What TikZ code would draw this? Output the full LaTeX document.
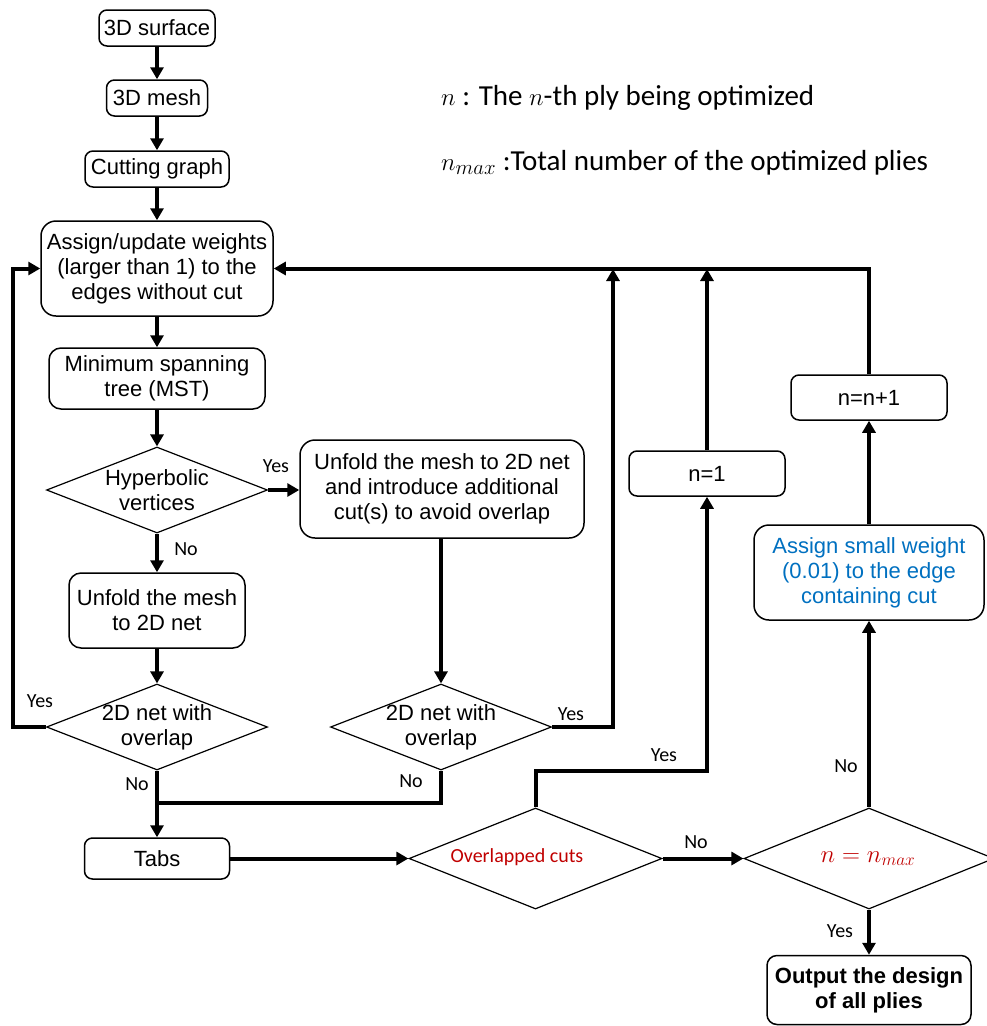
\documentclass[tikz,border=0pt]{standalone}
\usepackage{fontspec}
\setmainfont{Liberation Sans}
\newfontfamily\calib{Carlito}
\usetikzlibrary{arrows.meta,shapes.geometric}
\definecolor{myblue}{RGB}{0,112,192}
\definecolor{myred}{RGB}{192,0,0}
\begin{document}
\begin{tikzpicture}[x=1pt,y=-1pt,
  box/.style={draw, line width=1.5pt, rounded corners=8pt, align=center, font=\fontsize{22}{25}\selectfont, inner sep=0pt},
  dia/.style={draw, diamond, line width=1.2pt, inner sep=0pt},
  dtext/.style={align=center, font=\fontsize{22}{25}\selectfont},
  conn/.style={line width=4pt},
  arr/.style={conn, -{Triangle[length=12pt,width=13pt]}},
  lab/.style={font=\calib\fontsize{20}{22}\selectfont},
  leg/.style={anchor=west, inner sep=0pt, font=\calib\fontsize{29}{32}\selectfont}
]
\useasboundingbox (0,0) rectangle (986,1026);

% boxes
\node[box, minimum width=116pt, minimum height=36pt] (surf) at (157,28) {3D surface};
\node[box, minimum width=101pt, minimum height=36pt] (mesh) at (157,98) {3D mesh};
\node[box, minimum width=144pt, minimum height=36pt] (cut) at (157,169) {Cutting graph};
\node[box, rounded corners=15pt, minimum width=232pt, minimum height=95pt] (assign) at (157,268.5) {Assign/update weights\\(larger than 1) to the\\edges without cut};
\node[box, rounded corners=12pt, minimum width=216pt, minimum height=61pt] (mst) at (157,378.5) {Minimum spanning\\tree (MST)};
\node[dia, minimum width=221pt, minimum height=86pt] (hyp) at (157,490) {};
\node[dtext] (hypt) at (157,490) {Hyperbolic\\vertices};
\node[box, rounded corners=15pt, minimum width=284pt, minimum height=98pt] (unf2) at (442,489) {Unfold the mesh to 2D net\\and introduce additional\\cut(s) to avoid overlap};
\node[box, rounded corners=12pt, minimum width=176pt, minimum height=75pt] (unf1) at (157,610.5) {Unfold the mesh\\to 2D net};
\node[dia, minimum width=221pt, minimum height=86pt] (ov1) at (157,727) {};
\node[dtext] (ov1t) at (157,727) {2D net with\\overlap};
\node[dia, minimum width=221pt, minimum height=86pt] (ov2) at (441,727) {};
\node[dtext] (ov2t) at (441,727) {2D net with\\overlap};
\node[box, minimum width=145pt, minimum height=41pt] (tabs) at (157,858.5) {Tabs};
\node[dia, minimum width=253pt, minimum height=101pt] (olc) at (535.5,858.5) {};
\node[font=\calib\fontsize{20}{22}\selectfont, text=myred] (olct) at (517,857) {Overlapped cuts};
\node[dia, minimum width=250pt, minimum height=101pt] (nmax) at (869,858.5) {};
\node[text=myred, font=\fontsize{26}{28}\selectfont] (nmaxt) at (868,858.5) {$n = n_{max}$};
\node[box, rounded corners=10pt, minimum width=204pt, minimum height=69pt, font=\bfseries\fontsize{22}{25}\selectfont] (out) at (869,990) {Output the design\\of all plies};
\node[box, rounded corners=15pt, minimum width=230pt, minimum height=95pt, text=myblue] (small) at (869,572.5) {Assign small weight\\(0.01) to the edge\\containing cut};
\node[box, minimum width=156pt, minimum height=45pt] (nn1) at (869,397.5) {n=n+1};
\node[box, minimum width=156pt, minimum height=45pt] (n1) at (707,473.5) {n=1};

% legend
\node[leg] (leg1) at (441,98) {$n$ : The $n$-th ply being optimized};
\node[leg] (leg2) at (441,163) {$n_{max}$ :Total number of the optimized plies};

% helper coordinates
\coordinate (top1) at (613,269);
\coordinate (top2) at (707,269);
\coordinate (jn) at (157,803);
\coordinate (yj) at (535.5,771);

% connectors
\draw[arr] (surf) -- (mesh);
\draw[arr] (mesh) -- (cut);
\draw[arr] (cut) -- (assign);
\draw[arr] (assign) -- (mst);
\draw[arr] (mst) -- (hyp.north);
\draw[arr] (hyp.east) -- (hyp.east -| unf2.west);
\draw[arr] (hyp.south) -- (unf1.north);
\draw[arr] (unf1) -- (ov1.north);
\draw[arr] (ov2.north |- unf2.south) -- (ov2.north);
\draw[arr] (ov1.west) -- ++(-33,0) |- (assign.west);
\draw[conn] (ov2.south) |- (jn);
\draw[arr] (ov1.south) -- (tabs.north);
\draw[arr] (ov2.east) -| (top1);
\draw[arr] (nn1.north) |- (assign.east);
\draw[arr] (n1.north) -- (top2);
\draw[arr] (olc.north) -- (yj) -| (n1.south);
\draw[arr] (tabs.east) -- (olc.west);
\draw[arr] (olc.east) -- (nmax.west);
\draw[arr] (nmax.north) -- (small.south);
\draw[arr] (small.north) -- (nn1.south);
\draw[arr] (nmax.south) -- (out.north);

% labels
\node[lab] (l1) at (276,466) {Yes};
\node[lab] (l2) at (186,549) {No};
\node[lab] (l3) at (40,701) {Yes};
\node[lab] (l4) at (137,784) {No};
\node[lab] (l5) at (571,714) {Yes};
\node[lab] (l6) at (411,781) {No};
\node[lab] (l7) at (664,755) {Yes};
\node[lab] (l8) at (696,842) {No};
\node[lab] (l9) at (846,766) {No};
\node[lab] (l10) at (840,931) {Yes};
\end{tikzpicture}
\end{document}
